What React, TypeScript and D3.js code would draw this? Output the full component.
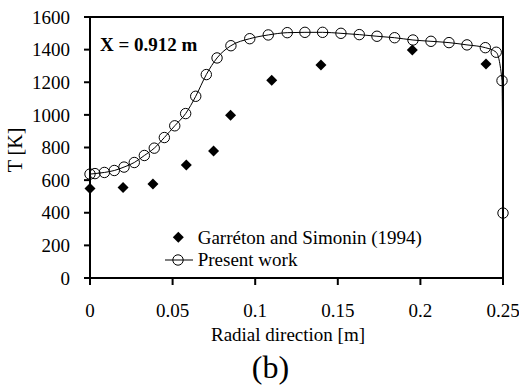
import React from 'react';
import * as d3 from 'd3';

const width = 519;
const height = 391;
const margin = { top: 17, right: 16, bottom: 113, left: 90 };

// Present work (simulation)
const presentX = [0, 0.003, 0.0087, 0.0147, 0.0206, 0.0268, 0.0329, 0.0389, 0.045, 0.0513, 0.0579, 0.064,
  0.0704, 0.0769, 0.0853, 0.0967, 0.1079, 0.1194, 0.1301, 0.1408, 0.1519, 0.163, 0.1737, 0.1844, 0.1955,
  0.2064, 0.2173, 0.2282, 0.2393, 0.2459, 0.2494, 0.25];
const presentT = [637, 640, 647, 659, 680, 708, 751, 796, 861, 933, 1008, 1114,
  1247, 1349, 1424, 1467, 1490, 1504, 1506, 1506, 1500, 1492, 1482, 1473, 1459,
  1451, 1443, 1429, 1412, 1384, 1210, 398];

// Garréton and Simonin (1994)
const expX = [0, 0.02, 0.0381, 0.0583, 0.0748, 0.0851, 0.11, 0.1398, 0.1951, 0.2397];
const expT = [549, 555, 576, 692, 779, 998, 1212, 1306, 1398, 1312];

const xTicks = [0, 0.05, 0.1, 0.15, 0.2, 0.25];
const yTicks = [0, 200, 400, 600, 800, 1000, 1200, 1400, 1600];

const font = '"Liberation Serif", "Times New Roman", serif';

export default function App() {
  const x = d3.scaleLinear().domain([0, 0.25]).range([margin.left, width - margin.right]);
  const y = d3.scaleLinear().domain([0, 1600]).range([height - margin.bottom, margin.top]);

  const present = presentX.map((v, i) => [v, presentT[i]] as [number, number]);
  const exp = expX.map((v, i) => [v, expT[i]] as [number, number]);

  const line = d3.line<[number, number]>()
    .x(d => x(d[0]))
    .y(d => y(d[1]))
    .curve(d3.curveMonotoneX);

  const diamond = (cx: number, cy: number, r = 5.5) =>
    `M${cx},${cy - r}L${cx + r},${cy}L${cx},${cy + r}L${cx - r},${cy}Z`;

  const x0 = x(0), x1 = x(0.25), y0 = y(0), y1 = y(1600);

  return (
    <svg width={width} height={height} style={{ position: 'absolute', left: 0, top: 0, background: '#fff' }}
      fontFamily={font}>
      <rect x={0} y={0} width={width} height={height} fill="#fff" />

      {/* curve */}
      <path d={line(present) || ''} fill="none" stroke="#000" strokeWidth={1} />
      {present.map((d, i) => (
        <circle key={i} cx={x(d[0])} cy={y(d[1])} r={5.2} fill="none" stroke="#000" strokeWidth={1} />
      ))}
      {exp.map((d, i) => (
        <path key={i} d={diamond(x(d[0]), y(d[1]))} fill="#000" />
      ))}

      {/* frame */}
      <rect x={x0} y={y1} width={x1 - x0} height={y0 - y1} fill="none" stroke="#000" strokeWidth={2} />

      {/* y axis */}
      {yTicks.map(t => (
        <g key={t}>
          <line x1={x0 - 6} x2={x0} y1={y(t)} y2={y(t)} stroke="#000" strokeWidth={2} />
          <text x={70} y={y(t)} dy="0.35em" textAnchor="end" fontSize={19}>{t}</text>
        </g>
      ))}
      {/* x axis */}
      {xTicks.map(t => (
        <g key={t}>
          <line x1={x(t)} x2={x(t)} y1={y0} y2={y0 + 7} stroke="#000" strokeWidth={2} />
          <text x={x(t)} y={317} textAnchor="middle" fontSize={19}>{t}</text>
        </g>
      ))}

      <text x={288} y={341} textAnchor="middle" fontSize={19}>Radial direction [m]</text>
      <text transform="translate(22,150) rotate(-90)" textAnchor="middle" fontSize={20}>T [K]</text>
      <text x={270.5} y={378} textAnchor="middle" fontSize={32}>(b)</text>

      <text x={100} y={51} fontSize={19} fontWeight="bold">X = 0.912 m</text>

      {/* legend */}
      <path d={diamond(178.3, 237.3)} fill="#000" />
      <text x={197.7} y={243.5} fontSize={19}>Garréton and Simonin (1994)</text>
      <line x1={165} x2={193} y1={260} y2={260} stroke="#000" strokeWidth={1} />
      <circle cx={178} cy={260} r={5.2} fill="none" stroke="#000" strokeWidth={1} />
      <text x={197.7} y={266} fontSize={19}>Present work</text>
    </svg>
  );
}
